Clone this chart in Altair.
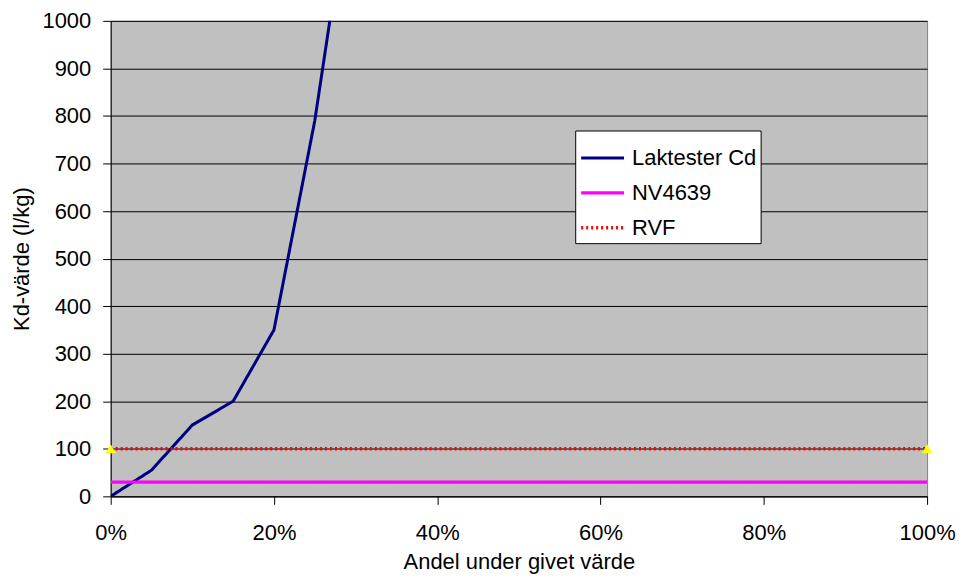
import altair as alt
import pandas as pd

# Data
lak_x = [0.00, 0.05, 0.10, 0.15, 0.20, 0.25, 0.30]
lak_y = [0, 55, 150, 200, 350, 790, 1360]
nv_x = [0.0, 1.0]
nv_y = [30, 30]
rvf_x = [0.0, 1.0]
rvf_y = [100, 100]

series = ["Laktester Cd", "NV4639", "RVF"]
colors = ["#000080", "#FF00FF", "#FF0000"]

rows = []
for x, y in zip(lak_x, lak_y):
    rows.append({"series": "Laktester Cd", "x": x, "y": y, "o": 0})
for x, y in zip(nv_x, nv_y):
    rows.append({"series": "NV4639", "x": x, "y": y, "o": 1})
for x, y in zip(rvf_x, rvf_y):
    rows.append({"series": "RVF", "x": x, "y": y, "o": 2})
df = pd.DataFrame(rows)
rvf_df = pd.DataFrame({"x": rvf_x, "y": rvf_y})

FONT = "Liberation Sans"
FS = 22

xenc = alt.X("x:Q", scale=alt.Scale(domain=[0, 1], nice=False),
             axis=alt.Axis(format=".0%", values=[0, 0.2, 0.4, 0.6, 0.8, 1.0],
                           title="Andel under givet värde", grid=False, labelFlush=False,
                           tickSize=8, labelPadding=18, titlePadding=8))
yenc = alt.Y("y:Q", scale=alt.Scale(domain=[0, 1000], nice=False),
             axis=alt.Axis(values=list(range(0, 1001, 100)), format="d",
                           title="Kd-värde (l/kg)",
                           grid=True, gridColor="#000000", gridWidth=1,
                           tickSize=8, labelPadding=12, titlePadding=8))

lines = alt.Chart(df).mark_line(clip=True).encode(
    x=xenc,
    y=yenc,
    order="o:Q",
    color=alt.Color("series:N", scale=alt.Scale(domain=series, range=colors),
                    legend=alt.Legend(title=None, orient="none", legendX=466, legendY=110,
                                      fillColor="white", strokeColor="black",
                                      padding=4, labelFontSize=FS, labelFont=FONT,
                                      labelColor="black",
                                      symbolType="stroke", symbolSize=1850,
                                      symbolStrokeWidth=3,
                                      labelLimit=300, rowPadding=-4,
                                      labelOffset=6)),
    strokeDash=alt.StrokeDash("series:N", scale=alt.Scale(domain=series,
                              range=[[1, 0], [1, 0], [2, 3]]), legend=None),
    strokeWidth=alt.StrokeWidth("series:N", scale=alt.Scale(domain=series,
                                range=[3, 3.5, 1.5]), legend=None),
)

pts = alt.Chart(rvf_df).mark_point(shape="triangle-up", filled=True, fill="#FFFF00",
                                     strokeWidth=0, size=110, opacity=1,
                                     clip=False).encode(
    x="x:Q", y="y:Q")

chart = alt.layer(lines, pts).properties(
    width=819, height=477,
    autosize=alt.AutoSizeParams(type="none"),
    padding={"left": 103, "top": 12, "right": 30, "bottom": 80},
    background="white",
).configure_view(
    fill="#C0C0C0", stroke="#808080", strokeWidth=1
).configure_axis(
    labelFont=FONT, titleFont=FONT, labelFontSize=FS, titleFontSize=FS,
    labelColor="black", titleColor="black", titleFontWeight="normal",
    domainColor="black", tickColor="black", domainWidth=1
)

chart.save("out.html", embed_options={"renderer": "svg", "actions": False})
